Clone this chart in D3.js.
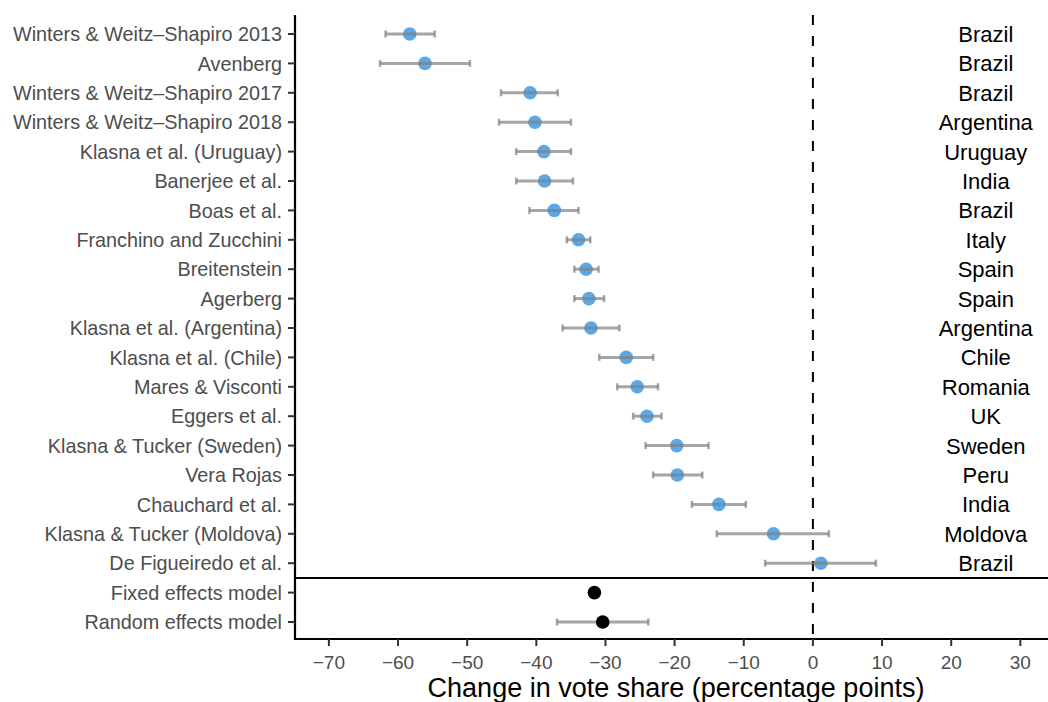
<!DOCTYPE html>
<html>
<head>
<meta charset="utf-8">
<script src="https://cdn.jsdelivr.net/npm/d3@7"></script>
<style>
body{margin:0;background:#fff;}
text{font-family:"Liberation Sans",Arial,sans-serif;}
</style>
</head>
<body>
<div id="chart"></div>
<script>
// studies, top to bottom
var studies = ["Winters & Weitz\u2013Shapiro 2013","Avenberg","Winters & Weitz\u2013Shapiro 2017","Winters & Weitz\u2013Shapiro 2018",
    "Klasna et al. (Uruguay)","Banerjee et al.","Boas et al.","Franchino and Zucchini","Breitenstein","Agerberg",
    "Klasna et al. (Argentina)","Klasna et al. (Chile)","Mares & Visconti","Eggers et al.","Klasna & Tucker (Sweden)",
    "Vera Rojas","Chauchard et al.","Klasna & Tucker (Moldova)","De Figueiredo et al."];
var countries = ["Brazil","Brazil","Brazil","Argentina","Uruguay","India","Brazil","Italy","Spain","Spain",
    "Argentina","Chile","Romania","UK","Sweden","Peru","India","Moldova","Brazil"];
var estimate = [-58.3,-56.1,-40.9,-40.2,-38.9,-38.8,-37.4,-33.9,-32.8,-32.4,-32.1,-27.0,-25.4,-24.0,-19.7,-19.6,-13.6,-5.7,1.15];
var lower    = [-61.8,-62.6,-45.1,-45.4,-42.9,-42.9,-41.0,-35.6,-34.5,-34.5,-36.2,-30.9,-28.3,-26.0,-24.2,-23.1,-17.5,-13.9,-6.9];
var upper    = [-54.7,-49.6,-36.9,-35.0,-35.0,-34.7,-33.9,-32.2,-31.0,-30.2,-28.0,-23.1,-22.4,-21.9,-15.1,-16.0,-9.7,2.3,9.1];

var models = ["Fixed effects model","Random effects model"];
var modelEst = [-31.6,-30.4];
var modelLo  = [-32.0,-37.0];
var modelHi  = [-31.2,-23.8];

var xTicks = [-70,-60,-50,-40,-30,-20,-10,0,10,20,30];

var width=1048, height=702;
var panelLeft=295, panelTop=15, panelBottom=639;

var svg = d3.select("#chart").append("svg")
    .attr("width",width).attr("height",height);

var x = d3.scaleLinear().domain([-74.9,35.3]).range([panelLeft,1057]);
var y = d3.scaleLinear().domain([0,20]).range([34,622]);

var labels = studies.concat(models);

// dashed zero line
svg.append("line")
    .attr("x1",x(0)).attr("x2",x(0))
    .attr("y1",panelTop).attr("y2",panelBottom)
    .attr("stroke","#000").attr("stroke-width",2)
    .attr("stroke-dasharray","10,11");

// separator between studies and models
svg.append("line")
    .attr("x1",panelLeft).attr("x2",width)
    .attr("y1",y(18.5)).attr("y2",y(18.5))
    .attr("stroke","#000").attr("stroke-width",2);

function errorBar(sel, lo, hi, yi){
    sel.append("line")
        .attr("x1",function(d,i){ return x(lo[i]); })
        .attr("x2",function(d,i){ return x(hi[i]); })
        .attr("y1",function(d,i){ return y(yi(i)); })
        .attr("y2",function(d,i){ return y(yi(i)); })
        .attr("stroke","#808080").attr("stroke-opacity",0.7).attr("stroke-width",3);
    [lo,hi].forEach(function(arr){
        sel.append("line")
            .attr("x1",function(d,i){ return x(arr[i]); })
            .attr("x2",function(d,i){ return x(arr[i]); })
            .attr("y1",function(d,i){ return y(yi(i))-3.5; })
            .attr("y2",function(d,i){ return y(yi(i))+3.5; })
            .attr("stroke","#808080").attr("stroke-opacity",0.7).attr("stroke-width",2.5);
    });
}

// study points
var rows = svg.selectAll("g.study")
    .data(studies)
    .enter()
    .append("g")
    .attr("class","study");

rows.append("circle")
    .attr("cx",function(d,i){ return x(estimate[i]); })
    .attr("cy",function(d,i){ return y(i); })
    .attr("r",6.8)
    .attr("fill","#4A9FE3")
    .attr("fill-opacity",0.9);

errorBar(rows, lower, upper, function(i){ return i; });

rows.append("text")
    .attr("x",x(25))
    .attr("y",function(d,i){ return y(i); })
    .attr("dy","0.36em")
    .attr("text-anchor","middle")
    .attr("font-size",22)
    .attr("fill","#000")
    .text(function(d,i){ return countries[i]; });

// pooled models
var mrows = svg.selectAll("g.model")
    .data(models)
    .enter()
    .append("g")
    .attr("class","model");

errorBar(mrows, modelLo, modelHi, function(i){ return 19+i; });
mrows.append("circle")
    .attr("cx",function(d,i){ return x(modelEst[i]); })
    .attr("cy",function(d,i){ return y(19+i); })
    .attr("r",6.8)
    .attr("fill","#000");

// y axis
svg.append("line")
    .attr("x1",panelLeft).attr("x2",panelLeft)
    .attr("y1",panelTop).attr("y2",panelBottom+1)
    .attr("stroke","#000").attr("stroke-width",2.2);

var yl = svg.selectAll("g.ylab")
    .data(labels)
    .enter()
    .append("g")
    .attr("class","ylab")
    .attr("transform",function(d,i){ return "translate(0," + y(i) + ")"; });
yl.append("line")
    .attr("x1",panelLeft-7).attr("x2",panelLeft)
    .attr("stroke","#333").attr("stroke-width",2);
yl.append("text")
    .attr("x",panelLeft-13)
    .attr("dy","0.36em")
    .attr("text-anchor","end")
    .attr("font-size",19.8)
    .attr("fill","#4D4D4D")
    .text(function(d){ return d; });

// x axis
svg.append("line")
    .attr("x1",panelLeft-1).attr("x2",width)
    .attr("y1",panelBottom).attr("y2",panelBottom)
    .attr("stroke","#000").attr("stroke-width",2.2);

var xt = svg.selectAll("g.xtick")
    .data(xTicks)
    .enter()
    .append("g")
    .attr("class","xtick")
    .attr("transform",function(d){ return "translate(" + x(d) + "," + panelBottom + ")"; });
xt.append("line")
    .attr("y1",0).attr("y2",7)
    .attr("stroke","#333").attr("stroke-width",2);
xt.append("text")
    .attr("y",30)
    .attr("text-anchor","middle")
    .attr("font-size",19)
    .attr("fill","#4D4D4D")
    .text(function(d){ return d<0 ? "\u2212" + Math.abs(d) : d; });

svg.append("text")
    .attr("x",(panelLeft+1057)/2)
    .attr("y",697)
    .attr("text-anchor","middle")
    .attr("font-size",27)
    .attr("fill","#000")
    .text("Change in vote share (percentage points)");
</script>
</body>
</html>
